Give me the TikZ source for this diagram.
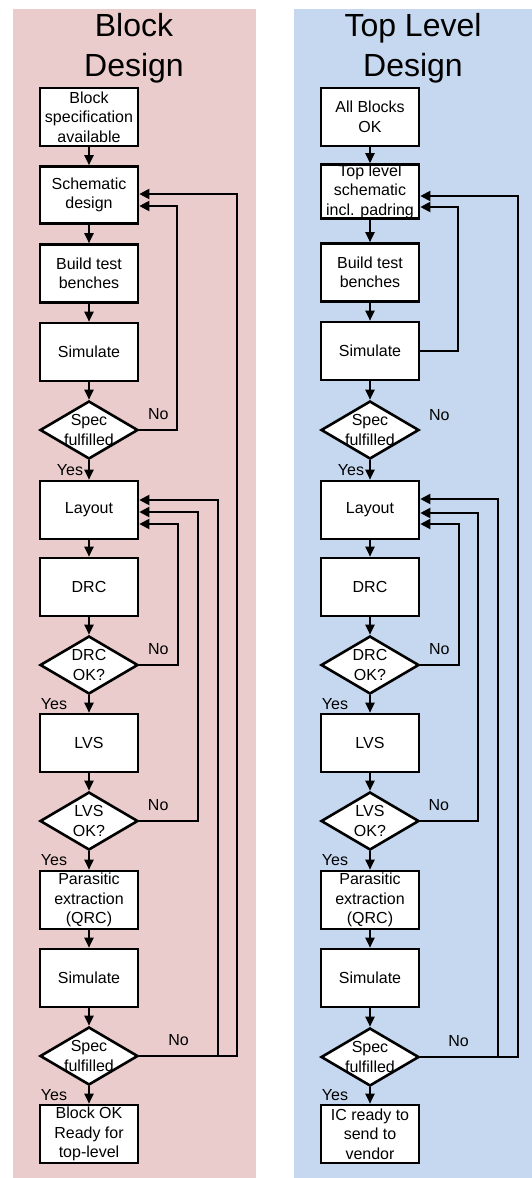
\documentclass[tikz,border=0pt]{standalone}
\usepackage{fontspec}
\setmainfont{Liberation Sans}
\usetikzlibrary{shapes.geometric, arrows.meta}
\definecolor{blockbg}{RGB}{234,204,204}
\definecolor{topbg}{RGB}{198,216,239}
\tikzstyle{stage} = [rectangle, draw, fill=white, line width=2.6pt, minimum width=98pt, minimum height=58pt, inner sep=0pt, align=center, font=\fontsize{16}{19.5}\selectfont]
\tikzstyle{check} = [diamond, draw, fill=white, line width=2.6pt, minimum width=98pt, minimum height=58pt, inner sep=0pt]
\tikzstyle{checktext} = [align=center, inner sep=0pt, font=\fontsize{16}{20}\selectfont]
\tikzstyle{title} = [align=center, font=\fontsize{32}{40}\selectfont]
\tikzstyle{flow} = [-{Triangle[length=10pt,width=9pt]}, line width=2pt]
\tikzstyle{back} = [-{Triangle[length=10pt,width=10pt]}, line width=2pt]
\tikzstyle{yes} = [left=5pt, inner sep=0pt, font=\fontsize{16}{19}\selectfont]
\tikzstyle{no} = [above=9pt, inner sep=0pt, font=\fontsize{16}{19}\selectfont]

\begin{document}
\begin{tikzpicture}[x=1pt, y=-1pt]
  \useasboundingbox (0,0) rectangle (532,1178);
  \fill[blockbg] (13,9) rectangle (256,1178);
  \fill[topbg] (294,9) rectangle (532,1178);

  % Block design
  \node[title] (title1) at (134,48) {Block\\Design};
  \node[stage] (spec1) at (89,117) {Block\\specification\\available};
  \node[stage, minimum height=57pt] (sch1) at (89,195) {Schematic\\design};
  \node[stage] (tb1) at (89,273.5) {Build test\\benches};
  \node[stage] (sim1) at (89,352) {Simulate};
  \node[check, label={[checktext]center:Spec\\fulfilled}] (chk1) at (89,430) {};
  \node[stage] (lay1) at (89,510) {Layout};
  \node[stage] (drc1) at (89,587) {DRC};
  \node[check, label={[checktext]center:DRC\\OK?}] (okd1) at (89,665) {};
  \node[stage] (lvs1) at (89,743) {LVS};
  \node[check, label={[checktext]center:LVS\\OK?}] (okl1) at (89,821) {};
  \node[stage] (pex1) at (89,900) {Parasitic\\extraction\\(QRC)};
  \node[stage] (psim1) at (89,978) {Simulate};
  \node[check, label={[checktext]center:Spec\\fulfilled}] (pchk1) at (89,1056) {};
  \node[stage] (done1) at (89,1134) {Block OK\\Ready for\\top-level};

  \draw[flow] (spec1) -- (sch1);
  \draw[flow] (sch1) -- (tb1);
  \draw[flow] (tb1) -- (sim1);
  \draw[flow] (sim1) -- (chk1);
  \draw[flow] (chk1) -- node[yes]{Yes} (lay1);
  \draw[flow] (lay1) -- (drc1);
  \draw[flow] (drc1) -- (okd1);
  \draw[flow] (okd1) -- node[yes, left=16pt]{Yes} (lvs1);
  \draw[flow] (lvs1) -- (okl1);
  \draw[flow] (okl1) -- node[yes, left=16pt]{Yes} (pex1);
  \draw[flow] (pex1) -- (psim1);
  \draw[flow] (psim1) -- (pchk1);
  \draw[flow] (pchk1) -- node[yes, left=16pt]{Yes} (done1);

  \draw[back] (chk1.east) -- node[no]{No} ++(38,0) |- ([yshift=-11pt]sch1.east);
  \draw[back] (okd1.east) -- node[no, pos=0.49]{No} ++(39,0) |- ([yshift=-14pt]lay1.east);
  \draw[back] (okl1.east) -- node[no, pos=0.32]{No} ++(59,0) |- ([yshift=-2pt]lay1.east);
  \draw[back] (pchk1.east) -- node[no, pos=0.4]{No} ++(98,0) |- ([yshift=1pt]sch1.east);
  \draw[back] ([xshift=79pt]pchk1.east) |- ([yshift=10pt]lay1.east);

  % Top level design
  \node[title] (title2) at (413,48) {Top Level\\Design};
  \node[stage] (spec2) at (370,117) {All Blocks\\OK};
  \node[stage, minimum height=51pt] (sch2) at (370,191.5) {Top level\\schematic\\incl. padring};
  \node[stage] (tb2) at (370,272.5) {Build test\\benches};
  \node[stage] (sim2) at (370,351) {Simulate};
  \node[check, label={[checktext]center:Spec\\fulfilled}] (chk2) at (370,430) {};
  \node[stage] (lay2) at (370,510) {Layout};
  \node[stage] (drc2) at (370,587) {DRC};
  \node[check, label={[checktext]center:DRC\\OK?}] (okd2) at (370,665) {};
  \node[stage] (lvs2) at (370,743) {LVS};
  \node[check, label={[checktext]center:LVS\\OK?}] (okl2) at (370,821) {};
  \node[stage] (pex2) at (370,900) {Parasitic\\extraction\\(QRC)};
  \node[stage] (psim2) at (370,978) {Simulate};
  \node[check, label={[checktext]center:Spec\\fulfilled}] (pchk2) at (370,1057) {};
  \node[stage] (done2) at (370,1134) {IC ready to\\send to\\vendor};

  \draw[flow] (spec2) -- (sch2);
  \draw[flow] (sch2) -- (tb2);
  \draw[flow] (tb2) -- (sim2);
  \draw[flow] (sim2) -- (chk2);
  \draw[flow] (chk2) -- node[yes]{Yes} (lay2);
  \draw[flow] (lay2) -- (drc2);
  \draw[flow] (drc2) -- (okd2);
  \draw[flow] (okd2) -- node[yes, left=16pt]{Yes} (lvs2);
  \draw[flow] (lvs2) -- (okl2);
  \draw[flow] (okl2) -- node[yes, left=16pt]{Yes} (pex2);
  \draw[flow] (pex2) -- (psim2);
  \draw[flow] (psim2) -- (pchk2);
  \draw[flow] (pchk2) -- node[yes, left=16pt]{Yes} (done2);

  \draw[back] (sim2.east) -- ++(38,0) |- ([yshift=-15.5pt]sch2.east);
  \node[no] (no2) at ([xshift=19pt]chk2.east) {No};
  \draw[back] (okd2.east) -- node[no, pos=0.49]{No} ++(39,0) |- ([yshift=-14pt]lay2.east);
  \draw[back] (okl2.east) -- node[no, pos=0.32]{No} ++(58,0) |- ([yshift=-3pt]lay2.east);
  \draw[back] (pchk2.east) -- node[no, pos=0.39]{No} ++(98,0) |- ([yshift=-4.5pt]sch2.east);
  \draw[back] ([xshift=78pt]pchk2.east) |- ([yshift=11pt]lay2.east);
\end{tikzpicture}
\end{document}
